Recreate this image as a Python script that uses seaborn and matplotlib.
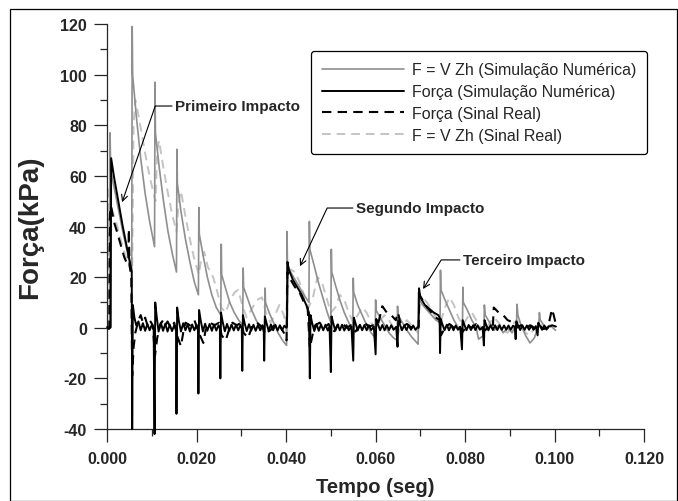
import numpy as np
import pandas as pd
import seaborn as sns
import matplotlib.pyplot as plt
from matplotlib.patches import Rectangle
from matplotlib.ticker import MultipleLocator, FormatStrFormatter

# tempo em ms, força em kPa
fvzh_sim = [
    (0.0, 0.0), (0.55, 0.0), (0.65, 77), (0.8, 62), (1.5, 56), (2.5, 47), (3.5, 38), (4.5, 30), (5.5, 22),
    (5.6, 119), (5.7, 100), (6.5, 84), (7.5, 67), (8.5, 53), (9.5, 42), (10.6, 32),
    (10.7, 97), (10.8, 77), (11.6, 64), (12.6, 50), (13.6, 38), (14.6, 29), (15.5, 22),
    (15.6, 70.5), (15.7, 57), (16.5, 46), (17.5, 35), (18.5, 26), (19.5, 18), (20.4, 13),
    (20.5, 47.5), (20.6, 37), (21.4, 29), (22.4, 20), (23.4, 13), (24.4, 8), (25.4, 5),
    (25.5, 33), (25.6, 21), (26.4, 16), (27.4, 10), (28.4, 6), (29.4, 3), (30.3, 1),
    (30.4, 23.6), (30.5, 16), (31.3, 12), (32.3, 7), (33.3, 3), (34.3, 0), (35.2, -2),
    (35.3, 15.7), (35.4, 10), (36.2, 6), (37.2, 2), (38.2, -2), (39.2, -5), (40.1, -7),
    (40.2, 38), (40.3, 25), (41.0, 22), (42.0, 19), (43.0, 16), (44.0, 13), (45.1, 10),
    (45.2, 42), (45.3, 31), (46.2, 25), (47.2, 18), (48.2, 12), (49.2, 6), (50.0, 2),
    (50.1, 31), (50.2, 22), (51.0, 17), (52.0, 11), (53.0, 6), (54.0, 2), (54.9, -1),
    (55.0, 19.6), (55.1, 14), (56.0, 9), (57.0, 5), (58.0, 1), (59.0, -2), (59.9, -4),
    (60.0, 11), (60.1, 7), (61.0, 4), (62.0, 1), (63.0, -2), (64.0, -4), (64.8, -5),
    (64.9, 8.5), (65.0, 5), (66.0, 2), (67.0, -1), (68.0, -3.5), (69.0, -5.5), (69.5, -6.5),
    (69.6, 14), (69.8, 11), (70.5, 9), (71.5, 7), (72.5, 5), (73.5, 3), (74.4, 2),
    (74.5, 22.7), (74.6, 15), (75.5, 11), (76.5, 7), (77.5, 3), (78.5, 0), (79.4, -2),
    (79.5, 16), (79.6, 10), (80.5, 7), (81.5, 3), (82.5, 0), (83.0, -4.5), (84.2, -3),
    (84.3, 9), (84.5, 5), (85.5, 2), (86.5, -1), (87.5, 1), (88.5, -2), (89.5, 0), (90.5, -2),
    (91.5, 2), (91.6, 9.3), (91.8, 5), (92.5, 1), (93.5, -3), (94.5, -6), (95.5, -4),
    (96.5, 2), (96.6, 6), (96.8, 3), (98.0, 0), (99.0, 1), (100.2, -1),
]

forca_sim = [
    (0.0, 0.3), (0.4, -0.5), (0.8, 0.2), (0.9, 67), (1.5, 60), (2.5, 50), (3.5, 40), (4.5, 31), (5.1, 26), (5.5, 22),
    (5.6, -40), (5.75, 9), (6.1, 4), (6.5, 1), (7.0, 2.5), (7.5, -1), (8.0, 1.8), (8.5, -1.2), (9.0, 1.5), (9.5, -1), (10.0, 1.2), (10.4, -0.5),
    (10.6, -42), (10.75, 10), (11.1, 4), (11.5, -1.5), (12.0, 2), (12.5, -1.2), (13.0, 1.6), (13.5, -1.5), (14.0, 1.2), (14.5, -1.3), (15.0, 1), (15.4, -0.6),
    (15.5, -34), (15.65, 8), (16.0, 3), (16.5, -1.5), (17.0, 1.8), (17.5, -1), (18.0, 1.4), (18.5, -1.5), (19.0, 1.3), (19.5, -1), (20.0, 1.2), (20.3, -0.5),
    (20.4, -26), (20.55, 7), (20.9, 3), (21.4, -1.5), (21.9, 1.6), (22.4, -1.2), (22.9, 1.5), (23.4, -1.2), (23.9, 1.3), (24.4, -1.1), (24.9, 1), (25.2, -0.4),
    (25.3, -20), (25.45, 6), (25.8, 2.5), (26.3, -1.4), (26.8, 1.5), (27.3, -1.2), (27.8, 1.3), (28.3, -1.1), (28.8, 1.2), (29.3, -1), (29.8, 1.1), (30.1, -0.4),
    (30.2, -17), (30.35, 5), (30.7, 2), (31.2, -1.3), (31.7, 1.4), (32.2, -1.1), (32.7, 1.2), (33.2, -1.2), (33.7, 1.1), (34.2, -1), (34.7, 1), (35.0, -0.3),
    (35.1, -13), (35.25, 4.5), (35.6, 2), (36.1, -1.2), (36.6, 1.3), (37.1, -1), (37.6, 1.2), (38.1, -1.1), (38.6, 1), (39.1, -1), (39.6, 0.8), (40.1, 0),
    (40.2, 0.5), (40.3, 26), (40.6, 23), (41.5, 19), (42.5, 16), (43.5, 13), (44.5, 9), (45.1, 6),
    (45.3, -20), (45.45, 5), (45.8, 2), (46.3, -1.3), (46.8, 1.5), (47.3, -1.2), (47.8, 1.3), (48.3, -1), (48.8, 1.2), (49.3, -1.1), (49.7, 0.5),
    (50.0, -17.5), (50.15, 4.5), (50.5, 2), (51.0, -1.2), (51.5, 1.3), (52.0, -1), (52.5, 1.2), (53.0, -1.1), (53.5, 1), (54.0, -1), (54.6, 0.6),
    (55.0, -13), (55.15, 4), (55.5, 1.8), (56.0, -1.1), (56.5, 1.2), (57.0, -1), (57.5, 1.1), (58.0, -1), (58.5, 1), (59.0, -0.9), (59.6, 0.5),
    (60.0, -10.5), (60.15, 3.5), (60.5, 1.5), (61.0, -1), (61.5, 1.1), (62.0, -1), (62.5, 1), (63.0, -0.9), (63.5, 1), (64.0, -0.8), (64.6, 0.4),
    (64.9, -7.5), (65.05, 3), (65.4, 1.4), (65.9, -1), (66.4, 1), (66.9, -0.9), (67.4, 1), (67.9, -0.8), (68.4, 0.9), (68.9, -0.8), (69.4, 0.3),
    (69.6, 0.5), (69.7, 15.6), (70.0, 12), (71.0, 9), (72.0, 7.5), (73.0, 6), (74.0, 5), (74.3, 4),
    (74.4, -10), (74.55, 3.5), (74.9, 1.5), (75.4, -1), (75.9, 1.2), (76.4, -1), (76.9, 1), (77.4, -1), (77.9, 0.9), (78.4, -0.8), (78.9, 0.4),
    (79.3, -8.5), (79.45, 3), (79.8, 1.4), (80.3, -1), (80.8, 1.1), (81.3, -0.9), (81.8, 1), (82.3, -0.9), (82.8, 1), (83.3, -0.8), (83.9, 0.3),
    (84.2, -7), (84.35, 3), (84.7, 1.2), (85.2, -1), (85.7, 1), (86.2, -0.9), (86.7, 1), (87.2, -0.9), (87.7, 1), (88.2, -0.8), (88.7, 0.9), (89.2, -0.8), (89.7, 0.9), (90.2, -0.8), (90.7, 0.8), (91.1, 0.2),
    (91.3, -4.5), (91.45, 2.5), (91.8, 1), (92.3, -0.9), (92.8, 1), (93.3, -0.8), (93.8, 0.9), (94.3, -0.8), (94.8, 0.8), (95.3, -0.8), (95.8, 0.6),
    (96.2, -3), (96.35, 2), (96.7, 0.8), (97.2, -0.8), (97.7, 0.9), (98.2, -0.7), (98.7, 0.6), (99.0, 0.5), (99.4, 1), (100.3, 0.5),
]

forca_real = [
    (0.0, 0.0), (0.5, 0.0), (0.6, 45), (0.9, 48), (1.5, 42), (2.2, 38), (3.0, 33), (3.8, 28), (4.3, 26), (4.75, 26),
    (4.85, 39), (5.0, 25), (5.4, 20), (5.6, -19), (5.9, -8), (6.3, -2), (7.0, 3), (7.5, 5), (8.0, 2), (8.5, 4), (9.0, 1), (9.5, 3), (10.2, 1),
    (10.7, -11), (11.2, -4), (11.8, 1), (12.5, 3), (13.0, 1), (13.5, 2.5), (14.2, 0), (15.0, 2), (15.6, -3), (16.5, -7.3), (17.0, -2),
    (17.5, 2), (18.5, 1), (19.5, 3), (20.5, -2), (21.5, -6), (22.0, -1), (23.0, 2), (24.0, 1), (25.0, 2), (25.6, -3), (26.5, -5),
    (27.2, -1), (28.0, 2), (29.0, 1), (30.0, 2), (30.5, -2), (31.5, -4), (32.5, 1), (33.5, 2), (34.5, 0.5), (35.5, -2), (36.5, -1),
    (37.5, 1.5), (38.5, 1), (39.5, -2), (40.1, -5), (40.3, 22), (41.0, 19), (42.0, 16), (43.0, 14), (44.0, 10), (44.8, 8),
    (45.3, -8), (46.0, -2), (46.5, 1), (47.5, 2), (48.5, 0), (49.5, 1.5), (50.5, -2), (51.5, 1), (52.5, 2), (53.5, 0), (54.5, 1),
    (55.5, -1.5), (56.5, 1), (57.5, 2), (58.5, 0.5), (59.5, 1), (60.5, 1), (61.5, 8.5), (62.5, 6), (63.5, 5), (64.5, 3), (65.0, 6),
    (65.5, 2), (66.0, 0.5), (67.0, 1.5), (68.0, 0), (69.0, 1), (69.6, 0), (69.8, 13), (70.5, 11), (71.5, 8), (72.5, 6), (73.5, 4),
    (74.3, 3), (74.6, -3), (75.5, 0), (76.5, 1.5), (77.5, 0), (78.5, 1), (79.5, -1.5), (80.5, 1), (81.5, 0), (82.5, 1.5), (83.5, 0),
    (84.5, -1), (85.5, 1), (86.2, 0.5), (86.4, 8), (87.5, 6), (88.5, 5), (89.5, 3), (90.5, 2.3), (91.5, 0), (92.5, 1), (93.5, -0.5),
    (94.5, 1), (95.5, 0), (96.5, 1), (97.5, -0.5), (98.5, 0), (99.1, 5), (99.4, 7.3), (99.8, 5), (100.2, 2),
]

fvzh_real = [
    (0.0, 0.0), (0.2, 0.0), (0.35, 55), (1.0, 47), (2.0, 42), (3.0, 35), (4.0, 29), (5.0, 24), (5.6, 22),
    (5.9, 80), (6.3, 90), (7.0, 84), (8.0, 74), (9.0, 64), (10.0, 56), (10.8, 50), (11.2, 70), (11.6, 74),
    (12.5, 64), (13.5, 54), (14.5, 45), (15.5, 38), (16.0, 50), (16.5, 54), (17.5, 44), (18.5, 35), (19.5, 27),
    (20.5, 21), (21.0, 27), (21.7, 30), (22.5, 24), (23.7, 20), (24.5, 15), (25.5, 8), (26.5, 6), (27.5, 11),
    (28.5, 14), (29.3, 15), (30.2, 9), (31.2, 4), (32.5, 8), (33.5, 11), (34.6, 12), (35.5, 6), (36.5, 2),
    (37.5, 5), (38.5, 9), (39.5, 5), (40.2, -3), (40.4, 18), (41.0, 23), (42.0, 22), (43.0, 18), (44.0, 13),
    (45.0, 8), (46.0, 12), (47.0, 20), (48.0, 18), (49.0, 12), (50.0, 6), (51.0, 8), (52.0, 13), (53.0, 11),
    (54.0, 6), (55.0, 2), (56.0, 5), (57.0, 8), (58.0, 6), (59.0, 2), (60.0, 0), (61.0, 3), (62.0, 5), (63.0, 3),
    (64.0, 0), (65.0, -2), (66.0, 1), (67.0, 3), (68.0, 1), (69.5, -2), (69.8, 10), (70.5, 12), (71.5, 10),
    (72.5, 7), (73.5, 4), (74.5, 2), (75.5, 8), (76.5, 12), (77.5, 9), (78.5, 4), (79.5, 1), (80.5, 4), (81.5, 6),
    (82.5, 3), (83.5, 0), (84.5, -2), (85.5, 2), (86.5, 4), (87.5, 2), (88.5, -1), (89.5, -2), (90.5, 1), (91.5, 3),
    (92.5, 1), (93.5, -2), (94.5, -3), (95.5, 0), (96.5, 2), (97.5, 0), (98.5, -1), (99.5, 1), (100.2, 0),
]

rotulos = ['F = V Zh (Simulação Numérica)', 'Força (Simulação Numérica)',
           'Força (Sinal Real)', 'F = V Zh (Sinal Real)']

sns.set_style('ticks')
plt.rcParams['font.family'] = ['Liberation Sans', 'DejaVu Sans']

fig = plt.figure(figsize=(6.78, 5.02), dpi=100)
ax = fig.add_axes([0.158, 0.1434, 0.792, 0.8068])

series = [fvzh_sim, forca_sim, forca_real, fvzh_real]
estilos = [
    dict(color='#8f8f8f', lw=1.2, ls='-', zorder=3),
    dict(color='black', lw=1.4, ls='-', zorder=5),
    dict(color='black', lw=1.5, ls=(0, (4.5, 3)), zorder=4),
    dict(color='#c4c4c4', lw=1.4, ls=(0, (4.5, 3)), zorder=2),
]
for dados, rot, est in zip(series, rotulos, estilos):
    df = pd.DataFrame(dados, columns=['t_ms', 'forca'])
    df['tempo'] = df['t_ms'] / 1000.0
    sns.lineplot(data=df, x='tempo', y='forca', ax=ax, sort=False, estimator=None,
                 label=rot, color=est['color'], linewidth=est['lw'],
                 linestyle=est['ls'], zorder=est['zorder'], clip_on=False)

ax.set_xlim(0, 0.12)
ax.set_ylim(-40, 120)
ax.xaxis.set_major_locator(MultipleLocator(0.02))
ax.xaxis.set_minor_locator(MultipleLocator(0.01))
ax.yaxis.set_major_locator(MultipleLocator(20))
ax.yaxis.set_minor_locator(MultipleLocator(10))
ax.xaxis.set_major_formatter(FormatStrFormatter('%.3f'))
ax.yaxis.set_major_formatter(FormatStrFormatter('%d'))
sns.despine(ax=ax)
for s in ['left', 'bottom']:
    ax.spines[s].set_linewidth(0.9)
ax.tick_params(which='major', direction='out', length=9.5, width=0.9, labelsize=11.5, pad=5)
ax.tick_params(which='minor', direction='out', length=5, width=0.9)
ax.tick_params(axis='x', which='major', pad=6.5)
for lab in ax.get_xticklabels() + ax.get_yticklabels():
    lab.set_fontweight('bold')

ax.set_xlabel('Tempo (seg)', fontsize=14.5, fontweight='bold')
ax.set_ylabel('Força(kPa)', fontsize=20, fontweight='bold')
ax.xaxis.set_label_coords(0.5, -0.118)
ax.yaxis.set_label_coords(-0.119, 0.5)

leg = ax.legend(loc='upper right', bbox_to_anchor=(1.006, 0.933), borderaxespad=0,
                frameon=True, fancybox=True, fontsize=11.5, handlelength=5.1,
                handletextpad=0.5, labelspacing=0.43, borderpad=0.7)
leg.get_frame().set_edgecolor('black')
leg.get_frame().set_linewidth(0.9)
leg.get_frame().set_alpha(1)

# texto, alvo da seta, centro do texto, ângulo do trecho inclinado
anot = [
    ('Primeiro Impacto', (0.00335, 49.6), (0.0292, 87.6), 71),
    ('Segundo Impacto', (0.0431, 24.3), (0.0700, 47.3), 65),
    ('Terceiro Impacto', (0.0706, 15.3), (0.0932, 26.8), 58),
]
for txt, alvo, pos, ang in anot:
    ax.annotate(txt, xy=alvo, xytext=pos, fontsize=11, fontweight='bold',
                ha='center', va='center', zorder=6,
                arrowprops=dict(arrowstyle='->', color='black', lw=0.8, shrinkA=0, shrinkB=0,
                                connectionstyle=f'angle,angleA=0,angleB={ang},rad=0'))

fig.patches.append(Rectangle((10 / 678, 0.5 / 502), 666.5 / 678, 491.5 / 502, fill=False,
                             edgecolor='black', linewidth=0.9, transform=fig.transFigure))

fig.savefig('out.png', dpi=100)
